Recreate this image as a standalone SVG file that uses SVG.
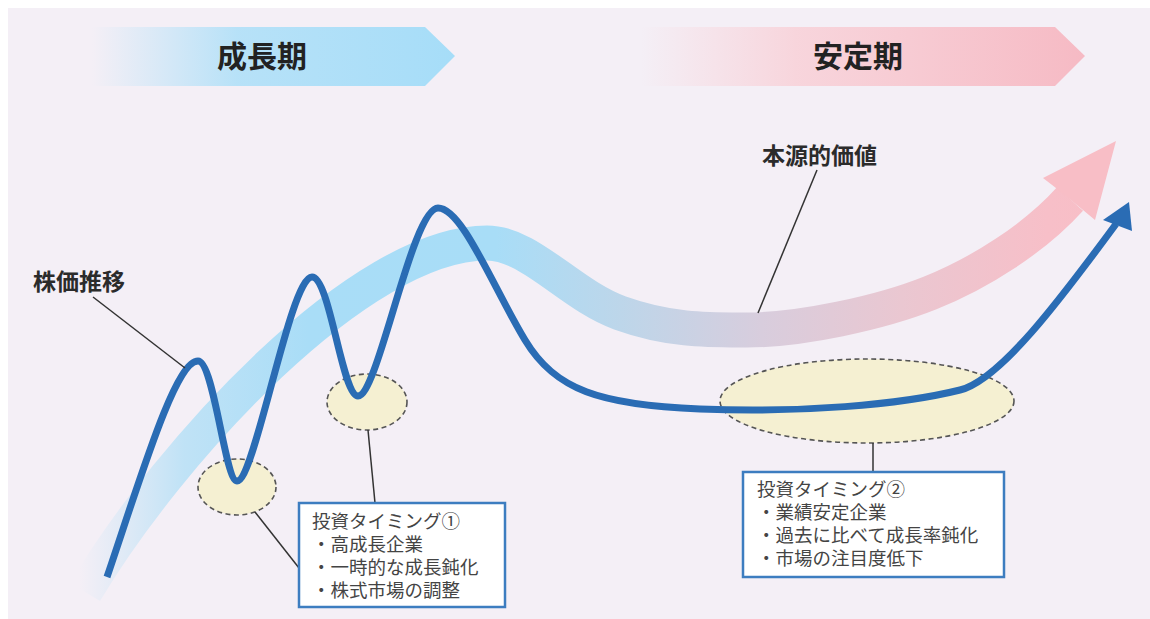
<svg xmlns="http://www.w3.org/2000/svg" width="1150" height="619" viewBox="0 0 1150 619">
  <defs>
    <linearGradient id="gBanner1" gradientUnits="userSpaceOnUse" x1="92" y1="0" x2="455" y2="0">
      <stop offset="0" stop-color="#b4e1f8" stop-opacity="0"/>
      <stop offset="0.4" stop-color="#b0e0f8" stop-opacity="0.9"/>
      <stop offset="1" stop-color="#a6ddf8"/>
    </linearGradient>
    <linearGradient id="gBanner2" gradientUnits="userSpaceOnUse" x1="641" y1="0" x2="1085" y2="0">
      <stop offset="0" stop-color="#f9d3da" stop-opacity="0"/>
      <stop offset="0.35" stop-color="#f8d2d9" stop-opacity="0.9"/>
      <stop offset="1" stop-color="#f6bac4"/>
    </linearGradient>
    <linearGradient id="gBand" gradientUnits="userSpaceOnUse" x1="80" y1="0" x2="1120" y2="0">
      <stop offset="0" stop-color="#b6e0f6" stop-opacity="0"/>
      <stop offset="0.1" stop-color="#aedef6" stop-opacity="0.75"/>
      <stop offset="0.22" stop-color="#a9ddf7"/>
      <stop offset="0.4" stop-color="#a8ddf7"/>
      <stop offset="0.52" stop-color="#bdd6ea"/>
      <stop offset="0.655" stop-color="#d8cddd"/>
      <stop offset="0.79" stop-color="#eac7d1"/>
      <stop offset="0.93" stop-color="#f7bfc8"/>
      <stop offset="1" stop-color="#f8bec6"/>
    </linearGradient>
    <style>
      .title { font-family: "Liberation Sans", "Noto Sans CJK JP", sans-serif; font-weight: 700; fill: #222; }
      .label { font-family: "Liberation Sans", "Noto Sans CJK JP", sans-serif; font-weight: 700; font-size: 23px; fill: #2b2b2b; }
      .boxtext { font-family: "Liberation Sans", "Noto Sans CJK JP", sans-serif; font-weight: 400; font-size: 18.5px; fill: #444; }
      .zone { fill: #f5f0d2; stroke: #555; stroke-width: 1.6; stroke-dasharray: 5 3.5; }
      .box { fill: #ffffff; stroke: #3d7dc0; stroke-width: 2.5; }
      .leader { stroke: #333; stroke-width: 1.5; fill: none; }
    </style>
  </defs>

  <rect x="8" y="8" width="1142" height="611" fill="#f4eff6"/>

  <g id="banner-growth">
    <polygon points="92,27 425,27 455,56 425,86 92,86" fill="url(#gBanner1)"/>
    <text class="title" x="262" y="67" font-size="30" text-anchor="middle">成長期</text>
  </g>
  <g id="banner-stable">
    <polygon points="641,27 1055,27 1085,56 1055,86 641,86" fill="url(#gBanner2)"/>
    <text class="title" x="858" y="67" font-size="30" text-anchor="middle">安定期</text>
  </g>

  <g id="intrinsic-value">
    <path d="M85,592 C170,450 360,243 487,243 C530,243 570,295 620,313 C670,331 710,330 747,330 C800,330 880,313 930,293 C980,273 1035,238 1070,199" fill="none" stroke="url(#gBand)" stroke-width="35"/>
    <polygon points="1056,188 1043,178 1116,141 1095,220 1083,210" fill="#f8bec6"/>
  </g>

  <g id="zones">
    <ellipse id="zone1a" class="zone" cx="237" cy="487" rx="39" ry="28"/>
    <ellipse id="zone1b" class="zone" cx="367" cy="402" rx="40" ry="28"/>
    <ellipse id="zone2" class="zone" cx="867" cy="401" rx="147" ry="42"/>
  </g>

  <g id="stock-price">
    <path d="M107,577 C140,480 175,361 198,361 C214,361 225,481 237,481 C255,481 290,277 312,277 C330,277 342,396 358,396 C378,396 412,208 438,208 C462,208 492,285 525,340 C555,390 600,405 700,409 C800,413 900,405 960,390 C1000,380 1060,300 1116,224" fill="none" stroke="#2a6cb4" stroke-width="7"/>
    <polygon points="1129,202 1103,220 1132,231" fill="#2a6cb4"/>
  </g>

  <g id="connectors">
    <line class="leader" x1="93" y1="297" x2="185" y2="368"/>
    <line class="leader" x1="817" y1="170" x2="758" y2="313"/>
    <line class="leader" x1="255" y1="512" x2="299" y2="568"/>
    <line class="leader" x1="368" y1="430" x2="375" y2="503"/>
    <line class="leader" x1="873" y1="443" x2="873" y2="472"/>
  </g>

  <g id="label-stock">
    <text class="label" x="33" y="290">株価推移</text>
  </g>
  <g id="label-value">
    <text class="label" x="762" y="164">本源的価値</text>
  </g>

  <g id="box1">
    <rect class="box" x="299" y="503" width="206" height="104"/>
    <text class="boxtext" x="312" y="528">投資タイミング①</text>
    <text class="boxtext" x="312" y="551">・高成長企業</text>
    <text class="boxtext" x="312" y="574">・一時的な成長鈍化</text>
    <text class="boxtext" x="312" y="597">・株式市場の調整</text>
  </g>

  <g id="box2">
    <rect class="box" x="743" y="472" width="261" height="105"/>
    <text class="boxtext" x="757" y="496">投資タイミング②</text>
    <text class="boxtext" x="757" y="519">・業績安定企業</text>
    <text class="boxtext" x="757" y="542">・過去に比べて成長率鈍化</text>
    <text class="boxtext" x="757" y="565">・市場の注目度低下</text>
  </g>
</svg>
